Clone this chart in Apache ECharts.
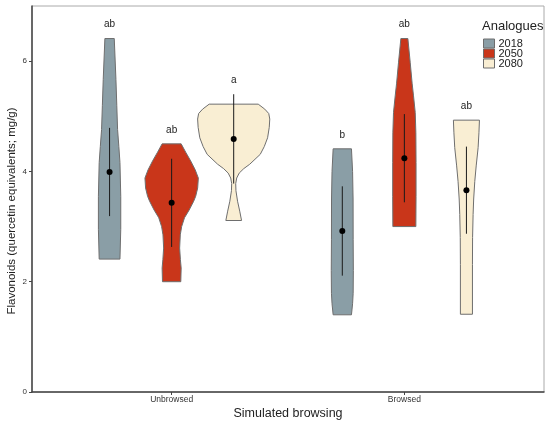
<!DOCTYPE html>
<html>
<head>
<meta charset="utf-8">
<script src="https://cdn.jsdelivr.net/npm/echarts@6/dist/echarts.min.js"></script>
<style>
    html, body { margin: 0; padding: 0; background: #fff; }
    #chart { width: 550px; height: 422px; }
</style>
</head>
<body>
<div id="chart"></div>
<script>
    const categories = ['Unbrowsed', 'Browsed'];
    const analogues = ['2018', '2050', '2080'];
    const yTicks = [0, 2, 4, 6];

    // mean and sd per category (Unbrowsed, Browsed)
    const mean2018 = [3.99, 2.92];
    const sd2018 = [0.80, 0.81];
    const mean2050 = [3.43, 4.24];
    const sd2050 = [0.80, 0.80];
    const mean2080 = [4.59, 3.66];
    const sd2080 = [0.81, 0.79];

    const letters2018 = ['ab', 'b'];
    const letters2050 = ['ab', 'ab'];
    const letters2080 = ['a', 'ab'];

    // violin outlines, top to bottom: [flavonoids, relative density]
    const violin2018Unbrowsed = [[6.41, 0.13], [5.67, 0.176], [5.2, 0.20], [4.76, 0.222], [4.45, 0.257],
        [4.16, 0.288], [3.55, 0.31], [2.95, 0.31], [2.41, 0.288]];
    const violin2018Browsed = [[4.41, 0.254], [4.0, 0.285], [3.5, 0.299], [2.76, 0.301], [2.2, 0.306],
        [1.79, 0.301], [1.6, 0.285], [1.4, 0.254]];
    const violin2050Unbrowsed = [[4.5, 0.264], [4.35, 0.389], [4.19, 0.528], [4.03, 0.653], [3.88, 0.74],
        [3.7, 0.722], [3.55, 0.667], [3.46, 0.611], [3.3, 0.486], [3.16, 0.357], [3.0, 0.278],
        [2.85, 0.24], [2.61, 0.222], [2.4, 0.243], [2.25, 0.264], [2.0, 0.254]];
    const violin2050Browsed = [[6.41, 0.097], [5.97, 0.163], [5.6, 0.215], [5.37, 0.254], [5.07, 0.301],
        [4.7, 0.319], [4.16, 0.324], [3.55, 0.324], [3.0, 0.319]];
    const violin2080Unbrowsed = [[5.22, 0.68], [5.13, 0.861], [5.05, 0.972], [4.95, 1.0], [4.8, 0.986],
        [4.61, 0.94], [4.45, 0.847], [4.31, 0.736], [4.13, 0.444], [4.05, 0.278], [3.97, 0.153],
        [3.88, 0.083], [3.78, 0.056], [3.65, 0.0625], [3.46, 0.107], [3.28, 0.167], [3.11, 0.218]];
    const violin2080Browsed = [[4.93, 0.361], [4.7, 0.347], [4.43, 0.324], [4.1, 0.271], [3.82, 0.232],
        [3.5, 0.201], [3.22, 0.185], [2.8, 0.171], [2.31, 0.167], [1.41, 0.167]];

    const colors = ['#8a9ea6', '#c9361a', '#f9eed3'];
    const DODGE = 0.8;
    const VIOLIN_W = 0.31;

    const groups = [
        {means: mean2018, sds: sd2018, letters: letters2018, violins: [violin2018Unbrowsed, violin2018Browsed]},
        {means: mean2050, sds: sd2050, letters: letters2050, violins: [violin2050Unbrowsed, violin2050Browsed]},
        {means: mean2080, sds: sd2080, letters: letters2080, violins: [violin2080Unbrowsed, violin2080Browsed]}
    ];

    function makeRenderer(g) {
        return function (params, api) {
            const i = params.dataIndex;
            const x = api.value(0), m = api.value(1), s = api.value(2);
            const prof = g.violins[i];
            const right = prof.map(p => api.coord([x + p[1] * VIOLIN_W / 2, p[0]]));
            const left = prof.slice().reverse().map(p => api.coord([x - p[1] * VIOLIN_W / 2, p[0]]));
            const top = api.coord([x, m + s]);
            const bot = api.coord([x, m - s]);
            const ctr = api.coord([x, m]);
            // letter sits a little above the violin or the error bar
            const lp = api.coord([x, Math.max(prof[0][0], m + s) + 0.25]);
            return {
                type: 'group',
                children: [
                    {type: 'polygon', shape: {points: right.concat(left)},
                        style: {fill: api.visual('color'), stroke: '#6e6e6e', lineWidth: 1}},
                    {type: 'line', shape: {x1: top[0], y1: top[1], x2: bot[0], y2: bot[1]},
                        style: {stroke: '#1a1a1a', lineWidth: 1}},
                    {type: 'circle', shape: {cx: ctr[0], cy: ctr[1], r: 3}, style: {fill: '#000'}},
                    {type: 'text', x: lp[0], y: lp[1],
                        style: {text: g.letters[i], fill: '#222', font: '10px "Liberation Sans", Arial, sans-serif',
                            align: 'center', verticalAlign: 'middle'}}
                ]
            };
        };
    }

    const series = analogues.map((name, k) => {
        const g = groups[k];
        const offset = (k - 1) * DODGE / 3;
        return {
            name: name,
            type: 'custom',
            itemStyle: {color: colors[k]},
            renderItem: makeRenderer(g),
            encode: {x: 0, y: 1},
            data: categories.map((c, i) => [i + 1 + offset, g.means[i], g.sds[i]])
        };
    });

    const chart = echarts.init(document.getElementById('chart'));
    chart.setOption({
        animation: false,
        textStyle: {fontFamily: '"Liberation Sans", Arial, sans-serif'},
        title: {
            text: 'Analogues',
            left: 482,
            top: 20,
            padding: 0,
            textStyle: {fontSize: 13, fontWeight: 'normal', color: '#222'}
        },
        legend: {
            orient: 'vertical',
            left: 483,
            top: 38,
            padding: 0,
            itemGap: -1,
            itemWidth: 11,
            itemHeight: 9,
            icon: 'rect',
            textStyle: {fontSize: 11, color: '#222', padding: [0, 0, 0, -1]},
            data: analogues.map((a, k) => ({
                name: a,
                itemStyle: {color: colors[k], borderColor: '#6e6e6e', borderWidth: 1}
            }))
        },
        grid: {
            left: 32, right: 6, top: 6, bottom: 30,
            outerBoundsMode: 'none',
            containLabel: false,
            show: true, borderColor: '#aaaaaa', borderWidth: 1
        },
        xAxis: {
            type: 'value',
            min: 0.4,
            max: 2.6,
            name: 'Simulated browsing',
            nameLocation: 'middle',
            nameGap: 15,
            nameMoveOverlap: false,
            nameTextStyle: {fontSize: 12.5, color: '#222', verticalAlign: 'top'},
            axisLine: {lineStyle: {color: '#444', width: 1.5}},
            axisTick: {show: true, customValues: [1, 2], length: 3, lineStyle: {color: '#444'}},
            axisLabel: {
                customValues: [1, 2], fontSize: 8.5, color: '#333', margin: 3,
                formatter: v => categories[Math.round(v) - 1]
            },
            splitLine: {show: false}
        },
        yAxis: {
            type: 'value',
            min: 0,
            max: 7,
            interval: 2,
            name: 'Flavonoids (quercetin equivalents; mg/g)',
            nameLocation: 'middle',
            nameGap: 14,
            nameMoveOverlap: false,
            nameTextStyle: {fontSize: 11.5, color: '#222', padding: [0, 24, 0, 0]},
            axisLine: {show: true, lineStyle: {color: '#444', width: 1.5}},
            axisTick: {show: true, customValues: yTicks, length: 3, lineStyle: {color: '#444'}},
            axisLabel: {customValues: yTicks, fontSize: 8, color: '#333', margin: 5},
            splitLine: {show: false}
        },
        series: series
    });
</script>
</body>
</html>
